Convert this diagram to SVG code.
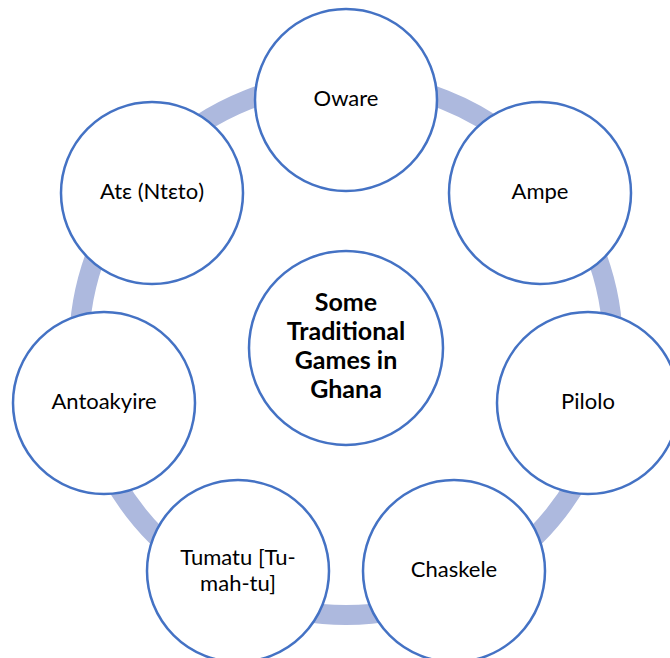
<svg xmlns="http://www.w3.org/2000/svg" width="670" height="658" viewBox="0 0 670 658">
<style>
.node{fill:#ffffff;stroke:#4472c4;stroke-width:2.5}
.lbl{font-family:Lato,"Open Sans","Liberation Sans",sans-serif;font-size:22px;fill:#000000;text-anchor:middle}
.ctr{font-family:Lato,"Open Sans","Liberation Sans",sans-serif;font-size:25px;font-weight:bold;fill:#000000;text-anchor:middle}
.ring{fill:none;stroke:#adb9de;stroke-width:20}
</style>
<rect width="670" height="658" fill="#ffffff"/>
<g id="connectors">
<circle class="ring" cx="346" cy="348" r="267"/>
</g>
<g id="center">
<circle class="node" cx="346" cy="348" r="97"/>
<text class="ctr"><tspan x="346" y="311">Some</tspan><tspan x="346" y="340">Traditional</tspan><tspan x="346" y="369">Games in</tspan><tspan x="346" y="398">Ghana</tspan></text>
</g>
<g id="oware">
<circle class="node" cx="346" cy="100" r="91"/>
<text class="lbl" x="346" y="106">Oware</text>
</g>
<g id="ampe">
<circle class="node" cx="540" cy="193" r="91"/>
<text class="lbl" x="540" y="199">Ampe</text>
</g>
<g id="pilolo">
<circle class="node" cx="588" cy="403" r="91"/>
<text class="lbl" x="588" y="409">Pilolo</text>
</g>
<g id="chaskele">
<circle class="node" cx="454" cy="571" r="91"/>
<text class="lbl" x="454" y="577">Chaskele</text>
</g>
<g id="tumatu">
<circle class="node" cx="238" cy="571" r="91"/>
<text class="lbl"><tspan x="238" y="565">Tumatu [Tu-</tspan><tspan x="238" y="591">mah-tu]</tspan></text>
</g>
<g id="antoakyire">
<circle class="node" cx="104" cy="403" r="91"/>
<text class="lbl" x="104" y="409">Antoakyire</text>
</g>
<g id="ate">
<circle class="node" cx="152" cy="193" r="91"/>
<text class="lbl" x="152" y="199">Atε (Ntεto)</text>
</g>
</svg>
